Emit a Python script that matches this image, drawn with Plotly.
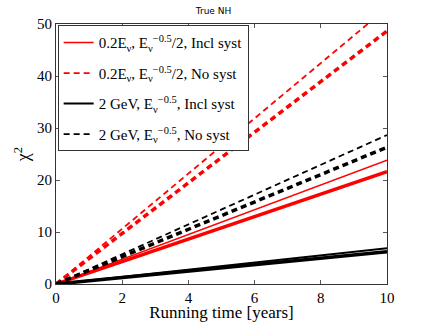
import plotly.graph_objects as go

years = [0, 2, 4, 6, 8, 10]

# 0.2E_nu, E^-0.5/2
red_incl_a = [0, 4.76, 9.52, 14.28, 19.04, 23.8]
red_incl_b = [0, 4.32, 8.64, 12.96, 17.28, 21.6]
red_nosys_a = [0, 10.62, 21.24, 31.86, 42.48, 53.1]
red_nosys_b = [0, 9.73, 19.46, 29.19, 38.92, 48.65]

# 2 GeV, E^-0.5
blk_incl_a = [0, 1.38, 2.76, 4.14, 5.52, 6.9]
blk_incl_b = [0, 1.24, 2.48, 3.72, 4.96, 6.2]
blk_nosys_a = [0, 5.73, 11.46, 17.19, 22.92, 28.65]
blk_nosys_b = [0, 5.26, 10.52, 15.78, 21.04, 26.3]

labels = [
    "0.2E<sub>ν</sub>, E<sub>ν</sub><sup>−0.5</sup>/2, Incl syst",
    "0.2E<sub>ν</sub>, E<sub>ν</sub><sup>−0.5</sup>/2, No syst",
    "2 GeV, E<sub>ν</sub><sup>−0.5</sup>, Incl syst",
    "2 GeV, E<sub>ν</sub><sup>−0.5</sup>, No syst",
]

serif = "Liberation Serif"

fig = go.Figure()

def add(y, color, width, dash, name=None):
    fig.add_trace(go.Scatter(
        x=years, y=y, mode="lines",
        line=dict(color=color, width=width, dash=dash),
        name=name or "", showlegend=name is not None,
        legendgroup=name or "",
    ))

# legend entries first
add(red_incl_a, "red", 1.6, "solid", labels[0])
add(red_nosys_a, "red", 1.8, "6px,4px", labels[1])
add(blk_incl_a, "black", 2, "solid", labels[2])
add(blk_nosys_a, "black", 1.8, "6px,4px", labels[3])

add(red_incl_b, "red", 3.5, "solid")
add(red_nosys_b, "red", 3.5, "6px,4px")
add(blk_incl_b, "black", 3.5, "solid")
add(blk_nosys_b, "black", 3.5, "6px,4px")

axis_common = dict(
    showgrid=False, zeroline=False, showline=True, linecolor="#333",
    linewidth=1, mirror="ticks", ticks="inside", ticklen=4,
    tickcolor="#555", automargin=False,
    tickfont=dict(family=serif, size=15, color="black"),
)

fig.update_xaxes(range=[0, 10], dtick=2, **axis_common,
                 title=dict(text="Running time [years]", standoff=2,
                            font=dict(family=serif, size=17, color="black")))
fig.update_yaxes(range=[0, 50], dtick=10, **axis_common,
                 title=dict(text="χ<sup>2</sup>", standoff=2,
                            font=dict(family=serif, size=18, color="black")))

fig.update_layout(
    width=427, height=322,
    margin=dict(l=56, r=40, t=24, b=38),
    font=dict(family=serif, color="black"),
    paper_bgcolor="white", plot_bgcolor="white",
    title=dict(text="True NH", x=0.5, xanchor="center", y=0.975, yanchor="top",
               font=dict(family="DejaVu Sans", size=9, color="black")),
    legend=dict(x=0.005, y=0.995, xanchor="left", yanchor="top",
                bgcolor="white", bordercolor="#333", borderwidth=1,
                font=dict(family=serif, size=15, color="black"),
                tracegroupgap=8, itemwidth=30),
    showlegend=True,
)

fig.write_html("out.html", config={"displayModeBar": False},
               post_script="document.body.style.margin='0';")
